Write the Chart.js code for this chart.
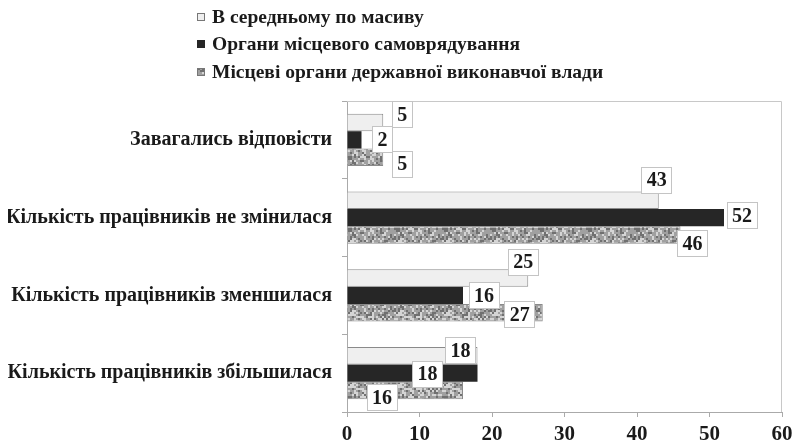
<!DOCTYPE html>
<html>
<head>
<meta charset="utf-8">
<script src="https://cdn.jsdelivr.net/npm/chart.js@4.4.1/dist/chart.umd.min.js"></script>
<style>
    html, body { margin: 0; padding: 0; background: #fff; }
    #wrap { width: 806px; height: 444px; position: relative; }
</style>
</head>
<body>
<div id="wrap"><canvas id="chart"></canvas></div>
<script>
// --- data ---
const categories = [
    'Завагались відповісти',
    'Кількість працівників не змінилася',
    'Кількість працівників зменшилася',
    'Кількість працівників збільшилася',
];
const seriesNames = [
    'В середньому по масиву',
    'Органи місцевого самоврядування',
    'Місцеві органи державної виконавчої влади',
];
const avgValues = [5, 43, 25, 18];
const localGovValues = [2, 52, 16, 18];
const stateAdminValues = [5, 46, 27, 16];
const xTicks = [0, 10, 20, 30, 40, 50, 60];

// label box nudges (px) relative to the bar end, per series / category
const labelNudges = [
    [[19, -8], [-2, -20], [-5, -16], [-17, -5]],
    [[21, 0], [18, -2], [21, 0], [-50, 1]],
    [[19, 7], [12, 9], [-23, 2], [-81, 7]],
];

const FONT = '"Liberation Serif", "Times New Roman", serif';

// blotchy gray texture for the third series (deterministic hash, styling only)
function makeNoisePattern() {
    const c = document.createElement('canvas');
    c.width = 48; c.height = 24;
    const g = c.getContext('2d');
    g.fillStyle = '#a0a0a0';
    g.fillRect(0, 0, c.width, c.height);
    for (let y = 0; y < c.height; y += 2) {
        for (let x = 0; x < c.width; x += 2) {
            const h = Math.sin(x * 12.9898 + y * 78.233) * 43758.5453;
            const f = h - Math.floor(h);
            if (f > 0.68) {
                g.fillStyle = 'rgba(222,222,222,0.85)';
                g.fillRect(x, y, 2, 2);
            } else if (f < 0.25) {
                g.fillStyle = 'rgba(100,100,100,0.8)';
                g.fillRect(x, y, 2, 2);
            }
        }
    }
    return g.createPattern(c, 'repeat');
}

const grayPattern = makeNoisePattern();
const seriesFill = ['#efefef', '#262626', grayPattern];
const seriesBorder = ['#8a8a8a', '#262626', '#8a8a8a'];

const legendPlugin = {
    id: 'stackedLegend',
    afterDraw(chart) {
        const ctx = chart.ctx;
        const rows = [17, 44, 72];
        ctx.save();
        ctx.font = 'bold 19.5px ' + FONT;
        ctx.textBaseline = 'middle';
        chart.data.datasets.forEach((ds, i) => {
            const y = rows[i];
            ctx.fillStyle = seriesFill[i];
            ctx.fillRect(197, y - 4, 8, 8);
            ctx.strokeStyle = i === 1 ? '#262626' : '#777';
            ctx.lineWidth = 1;
            ctx.strokeRect(197.5, y - 3.5, 7, 7);
            ctx.fillStyle = '#1a1a1a';
            ctx.fillText(ds.label, 212, y + 1);
        });
        ctx.restore();
    },
};

const frameAndLabelsPlugin = {
    id: 'frameAndLabels',
    beforeDatasetsDraw(chart) {
        const { ctx, chartArea: a } = chart;
        ctx.save();
        ctx.strokeStyle = '#c8c8c8';
        ctx.lineWidth = 1;
        ctx.beginPath();
        ctx.moveTo(a.left, a.top + 0.5);
        ctx.lineTo(a.right - 0.5, a.top + 0.5);
        ctx.lineTo(a.right - 0.5, a.bottom);
        ctx.stroke();
        ctx.restore();
    },
    afterDatasetsDraw(chart) {
        const ctx = chart.ctx;
        ctx.save();
        ctx.font = 'bold 20px ' + FONT;
        ctx.textAlign = 'center';
        ctx.textBaseline = 'middle';
        chart.data.datasets.forEach((ds, di) => {
            const meta = chart.getDatasetMeta(di);
            meta.data.forEach((bar, i) => {
                const text = String(ds.data[i]);
                const [dx, dy] = labelNudges[di][i];
                const cx = bar.x + dx;
                const cy = bar.y + dy;
                const w = ctx.measureText(text).width + 11;
                const h = 27;
                ctx.fillStyle = '#fff';
                ctx.fillRect(Math.round(cx - w / 2), Math.round(cy - h / 2), Math.round(w), h);
                ctx.strokeStyle = '#c4c4c4';
                ctx.lineWidth = 1;
                ctx.strokeRect(Math.round(cx - w / 2) + 0.5, Math.round(cy - h / 2) + 0.5, Math.round(w) - 1, h - 1);
                ctx.fillStyle = '#1a1a1a';
                ctx.fillText(text, cx, cy + 1);
            });
        });
        ctx.restore();
    },
};

const seriesValues = [avgValues, localGovValues, stateAdminValues];

new Chart(document.getElementById('chart'), {
    type: 'bar',
    data: {
        labels: categories,
        datasets: seriesValues.map((values, i) => ({
            label: seriesNames[i],
            data: values,
            backgroundColor: seriesFill[i],
            borderColor: seriesBorder[i],
            borderWidth: i === 1 ? 0 : 1,
            categoryPercentage: 0.67,
            barPercentage: 1,
        })),
    },
    options: {
        indexAxis: 'y',
        responsive: true,
        maintainAspectRatio: false,
        animation: false,
        layout: { padding: { top: 101, left: 8, right: 24, bottom: 0 } },
        plugins: {
            legend: { display: false },
            tooltip: { enabled: false },
        },
        scales: {
            x: {
                min: 0,
                max: 60,
                afterBuildTicks(scale) {
                    scale.ticks = xTicks.map(v => ({ value: v }));
                },
                afterFit(scale) { scale.height = 32; },
                border: { color: '#aaa' },
                grid: { drawOnChartArea: false, drawTicks: true, tickLength: 5, color: '#aaa' },
                ticks: {
                    color: '#1a1a1a',
                    padding: 5,
                    font: { family: FONT, size: 21, weight: 'bold' },
                },
            },
            y: {
                afterFit(scale) { scale.width = 339; },
                border: { color: '#aaa' },
                grid: { drawOnChartArea: false, drawTicks: true, tickLength: 5, color: '#aaa' },
                ticks: {
                    color: '#1a1a1a',
                    padding: 10,
                    font: { family: FONT, size: 20, weight: 'bold' },
                },
            },
        },
    },
    plugins: [legendPlugin, frameAndLabelsPlugin],
});
</script>
</body>
</html>
